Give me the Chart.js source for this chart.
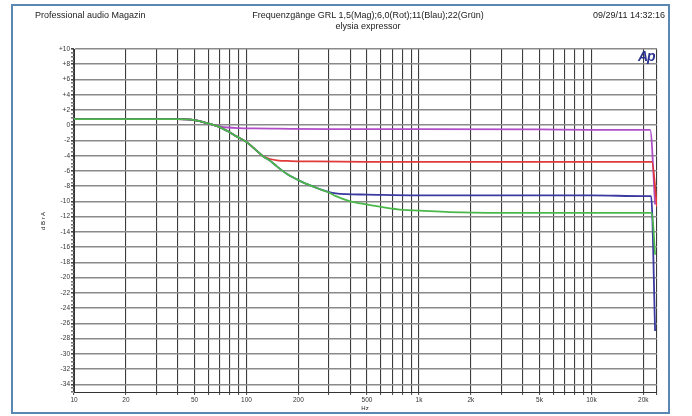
<!DOCTYPE html>
<html><head><meta charset="utf-8">
<script src="https://cdn.jsdelivr.net/npm/chart.js@4"></script>
<style>
html,body{margin:0;padding:0;background:#fff;}
#wrap{position:relative;width:692px;height:416px;overflow:hidden;font-family:"Liberation Sans",Arial,sans-serif;background:#fff;}
#frame{position:absolute;left:11px;top:4px;width:659px;height:410px;border:2px solid #5b88b2;box-sizing:border-box;}
canvas{position:absolute;left:0;top:0;}
.t{position:absolute;font-size:9px;color:#222;white-space:nowrap;line-height:1;}
</style></head>
<body>
<div id="wrap">
<div id="frame"></div>
<canvas id="c" width="692" height="416"></canvas>
<div class="t" style="left:35px;top:11px;">Professional audio Magazin</div>
<div class="t" style="left:368px;top:11px;transform:translateX(-50%);">Frequenzgänge GRL 1,5(Mag);6,0(Rot);11(Blau);22(Grün)</div>
<div class="t" style="left:368px;top:22px;transform:translateX(-50%);">elysia expressor</div>
<div class="t" style="left:665px;top:11px;transform:translateX(-100%);">09/29/11 14:32:16</div>
<div class="t" style="left:43px;top:221px;font-size:6px;transform:translate(-50%,-50%) rotate(-90deg);">d B r A</div>
<div class="t" style="left:365px;top:405px;font-size:6px;transform:translateX(-50%);">Hz</div>
<div class="t" style="left:638px;top:49px;font-size:14px;font-weight:bold;font-style:italic;color:#2b3590;letter-spacing:-1px;">Ap</div>
</div>
<script>
// ---- data ----
const magentaFreq = [10, 20, 30, 40, 45, 50, 56, 63, 70, 78, 90, 110, 150, 300, 1000, 5000, 10000, 20000, 21900, 23400];
const magentaDb   = [0.8, 0.8, 0.8, 0.8, 0.78, 0.68, 0.42, 0.1, -0.15, -0.3, -0.38, -0.42, -0.45, -0.5, -0.5, -0.55, -0.6, -0.6, -0.6, -10.4];

const redFreq = [10, 20, 30, 40, 45, 50, 56, 63, 70, 78, 88, 100, 109, 118, 125, 135, 150, 180, 250, 500, 2000, 10000, 20000, 22400, 24000];
const redDb   = [0.8, 0.8, 0.8, 0.8, 0.78, 0.68, 0.42, 0.1, -0.25, -0.8, -1.5, -2.2, -2.9, -3.6, -4.05, -4.4, -4.6, -4.7, -4.75, -4.8, -4.8, -4.8, -4.8, -4.8, -10.7];

const blueFreq = [10, 20, 30, 40, 45, 50, 56, 63, 70, 78, 88, 100, 109, 118, 125, 136, 150, 172, 204, 240, 267, 298, 330, 380, 500, 1000, 5000, 10000, 20000, 22200, 23400];
const blueDb   = [0.8, 0.8, 0.8, 0.8, 0.78, 0.68, 0.42, 0.1, -0.25, -0.8, -1.5, -2.2, -2.9, -3.6, -4.1, -4.6, -5.4, -6.4, -7.3, -8.0, -8.4, -8.75, -8.95, -9.05, -9.1, -9.2, -9.2, -9.2, -9.3, -9.3, -27.0];

const greenFreq = [10, 20, 30, 40, 45, 50, 56, 63, 70, 78, 88, 100, 109, 118, 125, 136, 150, 172, 204, 240, 267, 298, 330, 400, 500, 600, 810, 1000, 1500, 3000, 10000, 20000, 22400, 23400];
const greenDb   = [0.8, 0.8, 0.8, 0.8, 0.78, 0.68, 0.42, 0.1, -0.25, -0.8, -1.5, -2.2, -2.9, -3.6, -4.1, -4.6, -5.4, -6.4, -7.3, -8.0, -8.4, -8.8, -9.3, -10.0, -10.4, -10.7, -11.1, -11.2, -11.4, -11.5, -11.5, -11.5, -11.5, -17.0];

const xGridFreqs = [10,20,30,40,50,60,70,80,90,100,200,300,400,500,600,700,800,900,1000,2000,3000,4000,5000,6000,7000,8000,9000,10000,20000,24000];
const xTickLabels = {10:'10',20:'20',50:'50',100:'100',200:'200',500:'500',1000:'1k',2000:'2k',5000:'5k',10000:'10k',20000:'20k'};
const yTickValues = [10,8,6,4,2,0,-2,-4,-6,-8,-10,-12,-14,-16,-18,-20,-22,-24,-26,-28,-30,-32,-34];
const yTickLabels = ['+10','+8','+6','+4','+2','0','-2','-4','-6','-8','-10','-12','-14','-16','-18','-20','-22','-24','-26','-28','-30','-32','-34'];

const pts = (f, v) => f.map((x, i) => ({x, y: v[i]}));

const ds = (label, f, v, color) => ({
  label, data: pts(f, v), borderColor: color, backgroundColor: color,
  borderWidth: 1.8, pointRadius: 0, cubicInterpolationMode: 'monotone', fill: false
});

new Chart(document.getElementById('c'), {
  type: 'line',
  data: {
    datasets: [
      ds('22 (Grün)', greenFreq, greenDb, '#4cb84c'),
      ds('11 (Blau)', blueFreq, blueDb, '#3a3aa0'),
      ds('6,0 (Rot)', redFreq, redDb, '#e03a3a'),
      ds('1,5 (Mag)', magentaFreq, magentaDb, '#b04ec8')
    ]
  },
  options: {
    responsive: false, animation: false, devicePixelRatio: 1,
    layout: { padding: { left: 0, top: 49, right: 35, bottom: 0 } },
    plugins: { legend: { display: false }, tooltip: { enabled: false } },
    scales: {
      x: {
        type: 'logarithmic', min: 10, max: 24000,
        afterBuildTicks: s => { s.ticks = xGridFreqs.map(v => ({value: v})); },
        afterFit: s => { s.height = 24; },
        ticks: {
          autoSkip: false, maxRotation: 0, padding: 1,
          font: { size: 6.5, family: 'Liberation Sans' }, color: '#333',
          callback: v => xTickLabels[v] || ''
        },
        grid: { color: '#3c3c3c', lineWidth: 1.1, tickLength: 3, tickColor: '#555' },
        border: { color: '#333', width: 1 }
      },
      y: {
        min: -35, max: 10,
        afterBuildTicks: s => {
          const t = [];
          for (let v = 10; v >= -35; v -= 0.5) t.push({value: v});
          s.ticks = t;
        },
        afterFit: s => { s.width = 74; },
        ticks: {
          autoSkip: false, padding: 1,
          font: { size: 6.5, family: 'Liberation Sans' }, color: '#333',
          callback: v => { const i = yTickValues.indexOf(v); return i >= 0 ? yTickLabels[i] : ''; }
        },
        grid: {
          color: c => (yTickValues.includes(c.tick.value) ? '#8a8a8a' : 'rgba(0,0,0,0)'),
          lineWidth: 1.6, tickLength: 3,
          tickColor: c => (yTickValues.includes(c.tick.value) ? '#444' : '#777')
        },
        border: { color: '#333', width: 1 }
      }
    }
  }
});
</script>
</body></html>
